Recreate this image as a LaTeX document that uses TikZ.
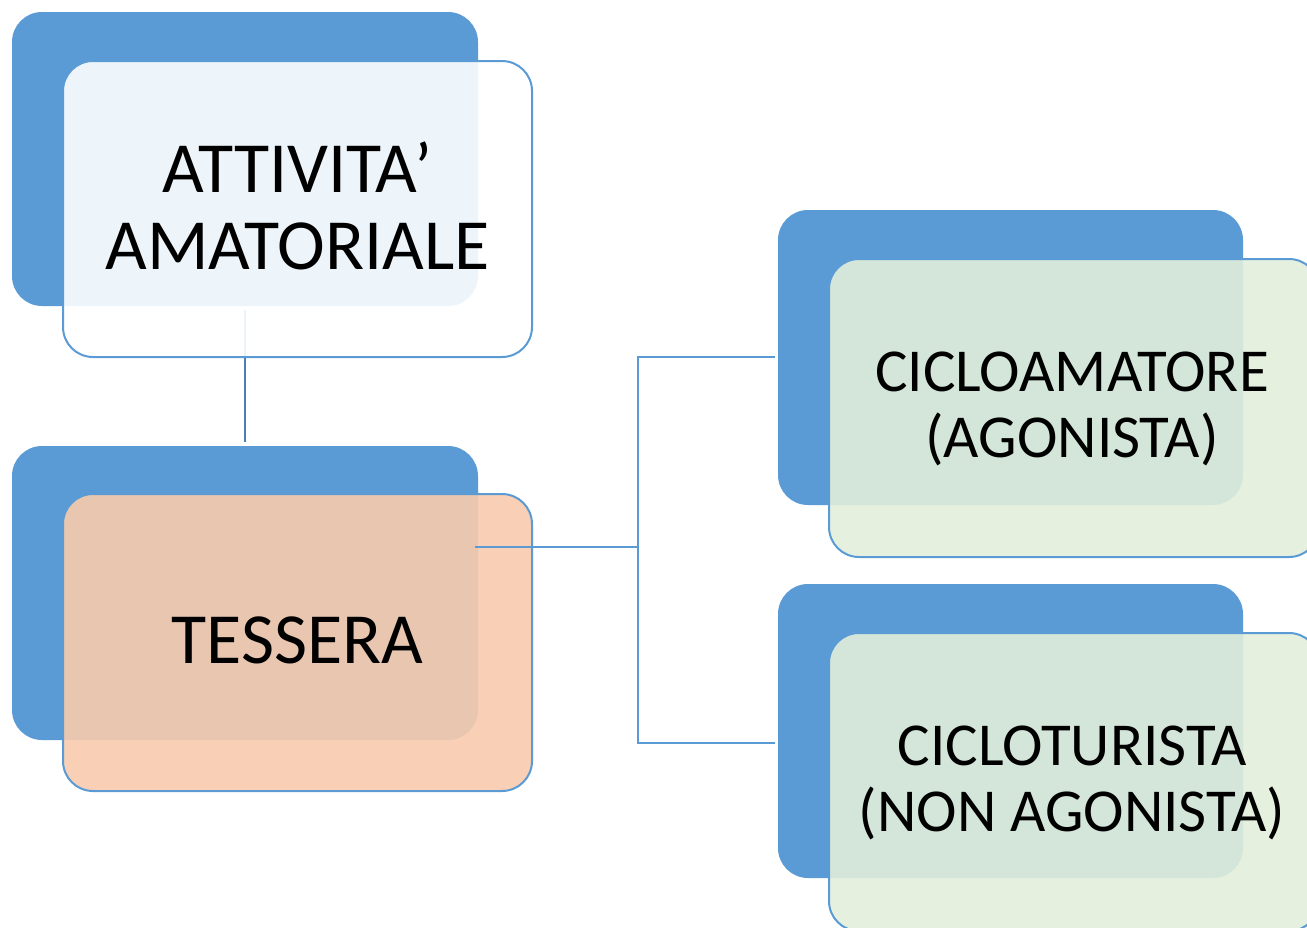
\documentclass[tikz,border=0pt]{standalone}
\usepackage{fontspec}
\setmainfont{Carlito}
\definecolor{backblue}{HTML}{5B9BD5}
\definecolor{edgeblue}{HTML}{5B9BD5}
\definecolor{darkconn}{HTML}{4A7EBB}
\definecolor{paleblue}{HTML}{FFFFFF}
\definecolor{peach}{HTML}{F8CBAD}
\definecolor{palegreen}{HTML}{E2EFDA}
\tikzset{
  backbox/.style={rectangle, rounded corners=30pt, fill=backblue, draw=none, inner sep=0pt},
  frontbox/.style={rectangle, rounded corners=30pt, draw=edgeblue, line width=2pt, fill opacity=0.9, inner sep=0pt},
  label/.style={inner sep=0pt, align=center, text=black},
  bigtext/.style={label, font=\fontsize{72}{77}\selectfont},
  smalltext/.style={label, font=\fontsize{61}{66}\selectfont},
  connA/.style={draw=darkconn, line width=2.4pt},
  connB/.style={draw=edgeblue, line width=1.4pt}
}
\begin{document}
\begin{tikzpicture}[x=1pt,y=-1pt]
\useasboundingbox (0,0) rectangle (1307,927);
\begin{scope}
\clip (0,0) rectangle (1307,927);
% box 1
\node[backbox, minimum width=466pt, minimum height=294pt] (back1) at (245,159) {};
\node[backbox, minimum width=466pt, minimum height=294pt] (back2) at (245,593) {};
\draw[connA] ([yshift=-4pt]back1.south) -- ([yshift=4pt]back2.north);
\node[frontbox, fill=paleblue, minimum width=469pt, minimum height=296pt] (front1) at (297.5,209) {};
\node[bigtext] (text1) at ([yshift=3pt]front1.center) {ATTIVITA’\\AMATORIALE};
% box 2
\node[frontbox, fill=peach, minimum width=469pt, minimum height=297pt] (front2) at (297.5,642.5) {};
\node[bigtext] (text2) at ([yshift=2pt]front2.center) {TESSERA};
% connectors to the right
\coordinate (s) at (475,547);
\coordinate (j) at (638,547);
\coordinate (t3) at (775,357);
\coordinate (t4) at (775,743);
\draw[connB] (s) -- (j);
\draw[connB] (j) |- (t3);
\draw[connB] (j) |- (t4);
% box 3
\node[backbox, minimum width=465pt, minimum height=295pt] (back3) at (1010.5,357.5) {};
\node[frontbox, fill=palegreen, minimum width=490pt, minimum height=298pt] (front3) at (1074,408) {};
\node[smalltext] (text3) at (1072,409) {CICLOAMATORE\\(AGONISTA)};
% box 4
\node[backbox, minimum width=465pt, minimum height=294pt] (back4) at (1010.5,731) {};
\node[frontbox, fill=palegreen, minimum width=490pt, minimum height=298pt] (front4) at (1074,782) {};
\node[smalltext] (text4) at (1072,783) {CICLOTURISTA\\(NON AGONISTA)};
\end{scope}
\end{tikzpicture}
\end{document}
